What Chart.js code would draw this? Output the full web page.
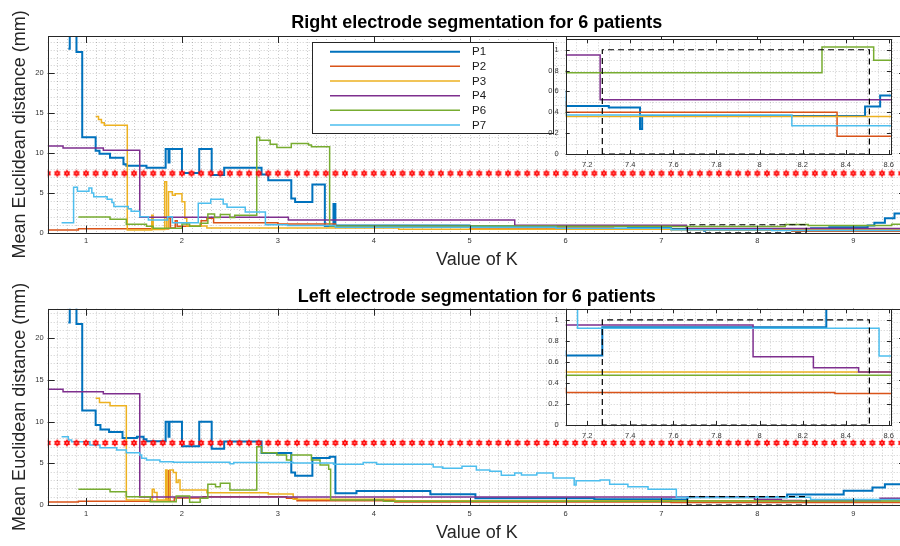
<!DOCTYPE html>
<html>
<head>
<meta charset="utf-8">
<script src="https://cdn.jsdelivr.net/npm/chart.js@4.4.1/dist/chart.umd.min.js"></script>
<style>
  html, body { margin: 0; padding: 0; background: #fff; overflow: hidden; }
  #page { position: relative; width: 900px; height: 546px; overflow: hidden; background: #fff; }
  canvas { position: absolute; }
</style>
</head>
<body>
<div id="page">
  <canvas id="rightMain" width="912" height="273" style="left:0;top:0"></canvas>
  <canvas id="rightZoom" width="400" height="160" style="left:500px;top:20px"></canvas>
  <canvas id="leftMain" width="912" height="273" style="left:0;top:273px"></canvas>
  <canvas id="leftZoom" width="400" height="160" style="left:500px;top:290px"></canvas>
</div>
<script>
// ---- data: K breakpoints and the value held from each one ----
const rightP1K = [0.815, 0.83, 0.90, 0.96, 1.10, 1.14, 1.25, 1.39, 1.42, 1.63, 1.83, 1.86, 1.87, 2.00, 2.18, 2.31, 2.44, 2.83, 2.90, 3.14, 3.18, 3.36, 3.49, 3.58, 3.60, 5.00, 6.65, 7.10, 7.30, 7.445, 7.455, 8.49, 8.56, 8.75, 9.15, 9.22, 9.33, 9.43, 9.55];
const rightP1 = [23.1, 24.9, 22.7, 12.0, 10.3, 9.9, 9.4, 8.6, 8.4, 8.15, 10.5, 8.8, 10.5, 7.5, 10.5, 7.25, 8.15, 7.3, 6.6, 4.3, 3.85, 6.05, 0.85, 3.6, 0.9, 0.8, 0.6, 0.46, 0.445, 0.24, 0.365, 0.455, 0.56, 0.7, 0.9, 1.25, 1.8, 2.4, 2.5];
const rightP2K = [0.60, 0.92, 1.86, 1.88, 1.93, 1.95, 2.20, 2.26, 2.33, 3.00, 3.60, 5.00, 6.50, 7.10, 8.36, 9.55];
const rightP2 = [0.35, 0.5, 1.8, 0.6, 1.5, 0.8, 1.5, 1.8, 1.25, 1.1, 0.75, 0.6, 0.5, 0.40, 0.17, 0.17];
const rightP3K = [1.10, 1.13, 1.16, 1.19, 1.43, 1.685, 1.70, 1.82, 1.84, 1.86, 1.90, 1.93, 2.00, 2.03, 2.05, 2.26, 4.26, 7.10, 9.55];
const rightP3 = [14.6, 14.2, 13.8, 13.5, 0.35, 2.2, 0.4, 6.4, 0.5, 5.15, 4.7, 4.9, 3.9, 1.8, 0.85, 0.6, 0.42, 0.36, 0.35];
const rightP4K = [0.60, 0.76, 1.18, 1.56, 3.11, 5.47, 7.26, 9.55];
const rightP4 = [10.9, 10.65, 10.35, 1.93, 1.6, 0.95, 0.52, 0.52];
const rightP6K = [0.92, 1.25, 1.42, 1.63, 1.70, 2.00, 2.08, 2.19, 2.27, 2.34, 2.40, 2.50, 2.55, 2.78, 2.81, 2.92, 2.99, 3.14, 3.32, 3.35, 3.54, 5.90, 7.10, 8.29, 8.53, 9.40, 9.55];
const rightP6 = [1.97, 1.68, 1.05, 0.8, 0.55, 1.1, 0.8, 1.2, 2.35, 1.9, 2.3, 1.9, 2.2, 12.0, 11.6, 11.1, 10.7, 11.2, 11.0, 10.8, 0.85, 0.8, 0.78, 1.026, 0.9, 1.05, 1.05];
const rightP7K = [0.745, 0.87, 0.91, 1.03, 1.06, 1.08, 1.22, 1.27, 1.29, 1.44, 1.47, 1.56, 1.65, 1.85, 1.90, 2.17, 2.30, 2.43, 2.47, 2.66, 2.87, 3.10, 3.60, 5.90, 7.10, 8.15, 9.55];
const rightP7 = [1.25, 5.7, 5.2, 5.6, 5.0, 4.5, 4.2, 3.8, 3.3, 3.0, 2.7, 2.0, 1.6, 2.0, 1.25, 3.7, 4.2, 3.6, 3.2, 2.6, 1.0, 0.9, 0.7, 0.55, 0.375, 0.27, 0.27];

const leftP1K = [0.815, 0.83, 0.90, 0.96, 1.10, 1.15, 1.24, 1.38, 1.53, 1.60, 1.63, 1.83, 1.86, 1.87, 2.00, 2.18, 2.31, 2.44, 2.83, 3.14, 3.18, 3.36, 3.54, 3.60, 3.82, 4.59, 5.06, 6.30, 7.10, 7.27, 8.31, 8.90, 9.20, 9.33, 9.55];
const leftP1 = [21.9, 23.8, 21.7, 11.35, 9.6, 9.05, 8.75, 8.05, 8.2, 7.9, 7.65, 10.0, 8.2, 10.0, 7.05, 10.0, 6.75, 7.62, 6.25, 3.9, 3.5, 5.65, 5.8, 1.4, 1.68, 1.3, 0.8, 0.7, 0.66, 0.93, 1.25, 1.7, 2.1, 2.5, 2.5];
const leftP2K = [0.60, 0.92, 1.86, 1.875, 1.92, 2.22, 3.09, 3.20, 4.22, 7.10, 8.35, 9.55];
const leftP2 = [0.35, 0.45, 4.1, 0.45, 0.85, 1.0, 0.8, 0.5, 0.35, 0.31, 0.30, 0.30];
const leftP3K = [1.10, 1.14, 1.25, 1.42, 1.69, 1.71, 1.74, 1.83, 1.845, 1.87, 1.91, 1.94, 1.96, 1.98, 2.26, 2.90, 3.16, 4.22, 7.10, 9.55];
const leftP3 = [12.8, 12.3, 11.9, 0.6, 1.9, 1.5, 0.6, 4.2, 0.6, 4.2, 3.9, 2.7, 3.0, 1.8, 1.47, 1.32, 0.68, 0.52, 0.505, 0.5];
const leftP4K = [0.60, 0.76, 1.18, 1.56, 7.97, 8.25, 8.46, 9.28, 9.55];
const leftP4 = [13.9, 13.6, 13.35, 0.95, 0.65, 0.545, 0.505, 0.8, 0.8];
const leftP6K = [0.92, 1.25, 1.42, 1.67, 1.94, 2.08, 2.19, 2.27, 2.35, 2.40, 2.50, 2.78, 2.83, 2.99, 3.09, 3.14, 3.35, 3.44, 3.53, 3.55, 4.10, 7.10, 9.55];
const leftP6 = [1.88, 1.6, 1.0, 0.4, 1.08, 0.32, 0.8, 2.48, 2.2, 2.6, 1.8, 7.0, 6.28, 6.0, 5.4, 6.0, 5.4, 4.8, 4.3, 0.6, 0.45, 0.474, 0.474];
const leftP7K = [0.745, 0.815, 0.85, 1.04, 1.145, 1.32, 1.42, 1.56, 1.58, 1.63, 1.77, 1.91, 2.50, 2.54, 3.16, 3.58, 3.89, 4.03, 4.62, 4.72, 4.92, 5.07, 5.21, 5.33, 5.47, 5.54, 5.70, 5.87, 6.09, 6.11, 6.36, 6.46, 6.65, 6.86, 7.155, 8.555, 9.55];
const leftP7 = [8.2, 7.8, 7.6, 7.2, 6.87, 6.6, 6.28, 6.0, 5.6, 5.4, 5.2, 5.12, 4.95, 5.1, 5.05, 4.9, 5.1, 4.9, 4.55, 4.4, 4.65, 4.2, 4.05, 3.57, 3.85, 3.6, 3.85, 3.25, 2.4, 2.9, 3.0, 2.5, 2.2, 1.9, 0.92, 0.655, 0.655];

// red threshold markers
const thresholdValue = 7.45;
const thresholdK = [0.6, 0.7, 0.8, 0.9, 1.0, 1.1, 1.2, 1.3, 1.4, 1.5, 1.6, 1.7, 1.8, 1.9, 2.0, 2.1, 2.2, 2.3, 2.4, 2.5,
  2.6, 2.7, 2.8, 2.9, 3.0, 3.1, 3.2, 3.3, 3.4, 3.5, 3.6, 3.7, 3.8, 3.9, 4.0, 4.1, 4.2, 4.3, 4.4, 4.5,
  4.6, 4.7, 4.8, 4.9, 5.0, 5.1, 5.2, 5.3, 5.4, 5.5, 5.6, 5.7, 5.8, 5.9, 6.0, 6.1, 6.2, 6.3, 6.4, 6.5,
  6.6, 6.7, 6.8, 6.9, 7.0, 7.1, 7.2, 7.3, 7.4, 7.5, 7.6, 7.7, 7.8, 7.9, 8.0, 8.1, 8.2, 8.3, 8.4, 8.5,
  8.6, 8.7, 8.8, 8.9, 9.0, 9.1, 9.2, 9.3, 9.4, 9.5];

// zoomed region outline
const zoomBoxK = [7.27, 7.27, 8.51, 8.51, 7.27];
const zoomBoxV = [0, 1, 1, 0, 0];

const seriesNames = ['P1', 'P2', 'P3', 'P4', 'P6', 'P7'];
const seriesColors = ['#0072BD', '#D95319', '#EDB120', '#7E2F8E', '#77AC30', '#4DBEEE'];

const rightSeries = [[rightP1K, rightP1], [rightP2K, rightP2], [rightP3K, rightP3], [rightP4K, rightP4], [rightP6K, rightP6], [rightP7K, rightP7]];
const leftSeries = [[leftP1K, leftP1], [leftP2K, leftP2], [leftP3K, leftP3], [leftP4K, leftP4], [leftP6K, leftP6], [leftP7K, leftP7]];

Chart.defaults.font.family = "'Liberation Sans', Arial, Helvetica, sans-serif";

function toPoints(ks, vs) {
    return ks.map((k, i) => ({ x: k, y: vs[i] }));
}

function makeHexagram(r, color) {
    const c = document.createElement('canvas');
    const s = Math.ceil(r * 2 + 3);
    c.width = s;
    c.height = s;
    const g = c.getContext('2d');
    g.fillStyle = color;
    g.strokeStyle = color;
    g.lineWidth = 0.6;
    [-Math.PI / 2, Math.PI / 2].forEach(a0 => {
        g.beginPath();
        for (let k = 0; k < 3; k++) {
            const a = a0 + k * 2 * Math.PI / 3;
            g.lineTo(s / 2 + r * Math.cos(a), s / 2 + r * Math.sin(a));
        }
        g.closePath();
        g.fill();
        g.stroke();
    });
    // small light centre as in the original marker
    g.fillStyle = 'rgba(255,255,255,0.55)';
    g.beginPath();
    g.arc(s / 2, s / 2, 0.9, 0, Math.PI * 2);
    g.fill();
    return c;
}

const starImg = makeHexagram(3.4, '#ff0000');

function buildDatasets(series, withThreshold) {
    const sets = series.map((s, i) => ({
        label: seriesNames[i],
        data: toPoints(s[0], s[1]),
        borderColor: seriesColors[i],
        borderWidth: i === 0 ? 2 : 1.5,
        stepped: true,
        pointRadius: 0,
        fill: false,
        order: 10 - i
    }));
    sets.push({
        label: 'zoom',
        data: toPoints(zoomBoxK, zoomBoxV),
        borderColor: '#000',
        borderWidth: 1.2,
        borderDash: [6, 4],
        pointRadius: 0,
        order: 1
    });
    if (withThreshold) {
        sets.push({
            label: 'threshold',
            data: thresholdK.map(k => ({ x: k, y: thresholdValue })),
            showLine: false,
            pointStyle: starImg,
            pointRadius: 4,
            order: 0
        });
    }
    return sets;
}

function gridValues(min, max, step) {
    const out = [];
    for (let i = Math.ceil(min / step - 1e-6); i * step <= max + 1e-9; i++) out.push(i * step);
    return out;
}

const tickLabel = v => String(Number(Number(v).toFixed(2)));

// MATLAB-like axes: white plot area, dotted minor grid, box and inward ticks
const matlabAxes = {
    id: 'matlabAxes',
    beforeDatasetsDraw(chart, args, opts) {
        const { ctx, chartArea: a, scales: { x, y } } = chart;
        ctx.save();
        ctx.fillStyle = '#ffffff';
        ctx.fillRect(a.left, a.top, a.right - a.left, a.bottom - a.top);
        ctx.lineWidth = 1;
        ctx.strokeStyle = 'rgba(0,0,0,0.2)';
        ctx.setLineDash([1, 2]);
        gridValues(x.min, x.max, opts.minorX).forEach(v => {
            const px = Math.round(x.getPixelForValue(v)) + 0.5;
            ctx.beginPath(); ctx.moveTo(px, a.top); ctx.lineTo(px, a.bottom); ctx.stroke();
        });
        gridValues(y.min, y.max, opts.minorY).forEach(v => {
            const py = Math.round(y.getPixelForValue(v)) + 0.5;
            ctx.beginPath(); ctx.moveTo(a.left, py); ctx.lineTo(a.right, py); ctx.stroke();
        });
        ctx.restore();
    },
    afterDatasetsDraw(chart, args, opts) {
        const { ctx, chartArea: a, scales: { x, y } } = chart;
        const t = opts.tickLen;
        ctx.save();
        ctx.strokeStyle = '#262626';
        ctx.lineWidth = 1;
        ctx.beginPath();
        gridValues(x.min, x.max, opts.majorX).forEach(v => {
            const px = Math.round(x.getPixelForValue(v)) + 0.5;
            ctx.moveTo(px, a.bottom); ctx.lineTo(px, a.bottom - t);
            ctx.moveTo(px, a.top); ctx.lineTo(px, a.top + t);
        });
        gridValues(y.min, y.max, opts.majorY).forEach(v => {
            const py = Math.round(y.getPixelForValue(v)) + 0.5;
            ctx.moveTo(a.left, py); ctx.lineTo(a.left + t, py);
            ctx.moveTo(a.right, py); ctx.lineTo(a.right - t, py);
        });
        ctx.stroke();
        ctx.strokeRect(Math.round(a.left) + 0.5, Math.round(a.top) + 0.5,
            Math.round(a.right) - Math.round(a.left), Math.round(a.bottom) - Math.round(a.top));
        ctx.restore();
    }
};

// legend box inside the top plot
const boxLegend = {
    id: 'boxLegend',
    afterDraw(chart, args, opts) {
        if (!opts.show) return;
        const ctx = chart.ctx;
        ctx.save();
        ctx.fillStyle = '#fff';
        ctx.fillRect(opts.left, opts.top, opts.width, opts.height);
        ctx.strokeStyle = '#262626';
        ctx.lineWidth = 1;
        ctx.strokeRect(opts.left + 0.5, opts.top + 0.5, opts.width, opts.height);
        ctx.font = "11.5px 'Liberation Sans', Arial, sans-serif";
        ctx.textBaseline = 'middle';
        ctx.fillStyle = '#1a1a1a';
        chart.data.datasets.slice(0, seriesNames.length).forEach((ds, i) => {
            const yy = opts.top + opts.firstRow + i * opts.rowStep;
            ctx.strokeStyle = ds.borderColor;
            ctx.lineWidth = ds.borderWidth;
            ctx.beginPath();
            ctx.moveTo(opts.left + 18, yy);
            ctx.lineTo(opts.left + 148, yy);
            ctx.stroke();
            ctx.fillText(ds.label, opts.left + 160, yy + 0.5);
        });
        ctx.restore();
    }
};

const hiddenGrid = { display: false, drawTicks: false, tickLength: 0 };

function mainConfig(series, title, yMax, xHeight, titlePad, legend) {
    return {
        type: 'line',
        data: { datasets: buildDatasets(series, true) },
        plugins: [matlabAxes, boxLegend],
        options: {
            responsive: false,
            animation: false,
            devicePixelRatio: 1,
            layout: { padding: { left: 0, right: 6, top: 0, bottom: 0 } },
            plugins: {
                legend: { display: false },
                tooltip: { enabled: false },
                title: {
                    display: true, text: title, fullSize: false, color: '#000',
                    font: { size: 18, weight: 'bold' }, padding: titlePad
                },
                matlabAxes: { minorX: 0.1, minorY: 1, majorX: 1, majorY: 5, tickLen: 7 },
                boxLegend: legend
            },
            scales: {
                x: {
                    type: 'linear', min: 0.6, max: 9.55,
                    afterFit: s => { s.height = xHeight; },
                    grid: hiddenGrid, border: { display: false },
                    ticks: { stepSize: 1, includeBounds: false, autoSkip: false, maxRotation: 0, padding: 4, color: '#333', font: { size: 7.5 }, callback: tickLabel },
                    title: { display: true, text: 'Value of K', color: '#262626', font: { size: 18 }, padding: { top: 0, bottom: 1.7 } }
                },
                y: {
                    type: 'linear', min: 0, max: yMax,
                    afterFit: s => { s.width = 47.7; },
                    grid: hiddenGrid, border: { display: false },
                    ticks: { stepSize: 5, includeBounds: false, padding: 4, color: '#333', font: { size: 7.5 }, callback: tickLabel },
                    title: { display: true, text: 'Mean Euclidean distance (mm)', color: '#262626', font: { size: 18 }, padding: { top: 9, bottom: 0 } }
                }
            }
        }
    };
}

function zoomConfig(series, xHeight) {
    return {
        type: 'line',
        data: { datasets: buildDatasets(series, false) },
        plugins: [matlabAxes],
        options: {
            responsive: false,
            animation: false,
            devicePixelRatio: 1,
            layout: { padding: { left: 0, right: 3.3, top: 19.3, bottom: 0 } },
            plugins: {
                legend: { display: false },
                tooltip: { enabled: false },
                matlabAxes: { minorX: 0.05, minorY: 0.1, majorX: 0.2, majorY: 0.2, tickLen: 4 }
            },
            scales: {
                x: {
                    type: 'linear', min: 7.1, max: 8.61,
                    afterFit: s => { s.height = xHeight; },
                    grid: hiddenGrid, border: { display: false },
                    ticks: { stepSize: 0.2, includeBounds: false, autoSkip: false, maxRotation: 0, padding: 6, color: '#333', font: { size: 7.5 }, callback: tickLabel }
                },
                y: {
                    type: 'linear', min: 0, max: 1.1,
                    afterFit: s => { s.width = 65.7; },
                    grid: hiddenGrid, border: { display: false },
                    ticks: { stepSize: 0.2, includeBounds: false, padding: 7, color: '#333', font: { size: 7.5 }, callback: tickLabel }
                }
            }
        }
    };
}

new Chart(document.getElementById('rightMain'),
    mainConfig(rightSeries, 'Right electrode segmentation for 6 patients', 24.7, 40.3,
        { top: 12.3, bottom: 2.1 },
        { show: true, left: 312, top: 42, width: 241, height: 91, firstRow: 9.7, rowStep: 14.65 }));

new Chart(document.getElementById('rightZoom'), zoomConfig(rightSeries, 26));

new Chart(document.getElementById('leftMain'),
    mainConfig(leftSeries, 'Left electrode segmentation for 6 patients', 23.55, 41,
        { top: 13.3, bottom: 0.8 },
        { show: false }));

new Chart(document.getElementById('leftZoom'), zoomConfig(leftSeries, 25));
</script>
</body>
</html>
